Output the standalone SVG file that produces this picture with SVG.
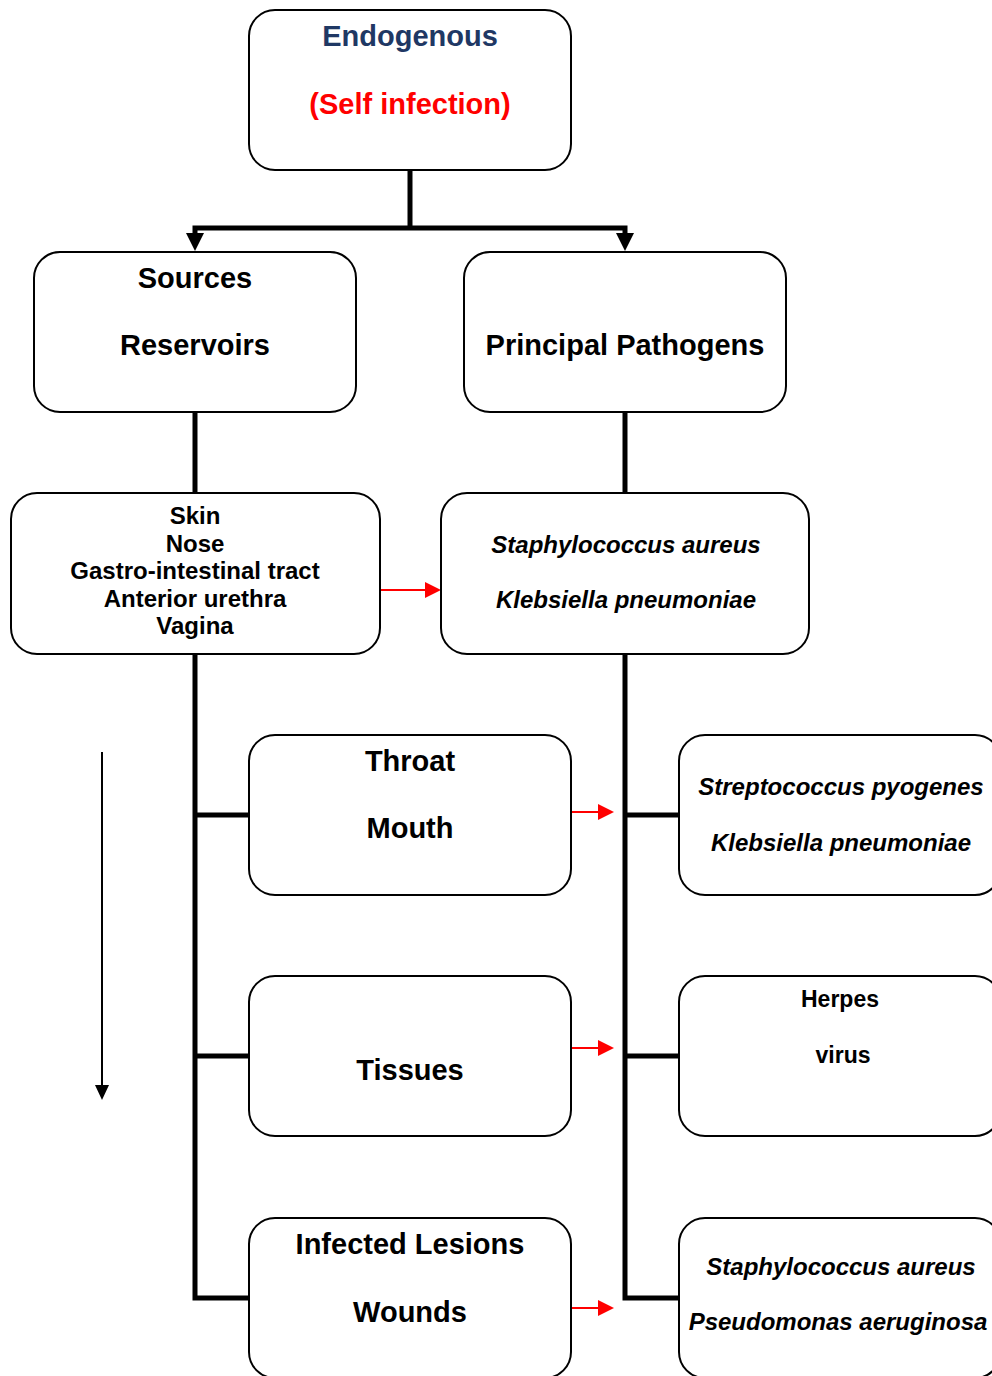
<svg xmlns="http://www.w3.org/2000/svg" width="992" height="1376" viewBox="0 0 992 1376">
<defs>
<style>
.box{fill:#fff;stroke:#000;stroke-width:2}
.t{font-family:"Liberation Sans",Arial,sans-serif;font-weight:bold;text-anchor:middle;fill:#000}
.h{font-size:29px}
.s{font-size:24px}
.v{font-size:23px}
.i{font-style:italic}
.thick{stroke:#000;stroke-width:5;fill:none}
.red{stroke:#f00;stroke-width:2;fill:none}
</style>
</defs>
<rect width="992" height="1376" fill="#fff"/>
<g id="connectors">
<path class="thick" d="M410,170 V228"/>
<path class="thick" d="M195,240 V228 H625 V240"/>
<path d="M186,233 L204,233 L195,251 Z" fill="#000"/>
<path d="M616,233 L634,233 L625,251 Z" fill="#000"/>
<path class="thick" d="M195,412 V493"/>
<path class="thick" d="M625,412 V493"/>
<path class="thick" d="M195,654 V1298 H249"/>
<path class="thick" d="M195,815 H249"/>
<path class="thick" d="M195,1056 H249"/>
<path class="thick" d="M625,654 V1298 H679"/>
<path class="thick" d="M625,815 H679"/>
<path class="thick" d="M625,1056 H679"/>
<path class="red" d="M380,590 H427"/>
<path d="M425,582 L441,590 L425,598 Z" fill="#f00"/>
<path class="red" d="M571,812 H600"/>
<path d="M598,804 L614,812 L598,820 Z" fill="#f00"/>
<path class="red" d="M571,1048 H600"/>
<path d="M598,1040 L614,1048 L598,1056 Z" fill="#f00"/>
<path class="red" d="M571,1308 H600"/>
<path d="M598,1300 L614,1308 L598,1316 Z" fill="#f00"/>
<path d="M102,752 V1088" stroke="#000" stroke-width="2"/>
<path d="M95,1085 L109,1085 L102,1100 Z" fill="#000"/>
</g>
<g id="endogenous">
<rect class="box" x="249" y="10" width="322" height="160" rx="26"/>
<text class="t h" x="410" y="46" style="fill:#1f3864">Endogenous</text>
<text class="t h" x="410" y="114" style="fill:#f00">(Self infection)</text>
</g>
<g id="sources">
<rect class="box" x="34" y="252" width="322" height="160" rx="26"/>
<text class="t h" x="195" y="288">Sources</text>
<text class="t h" x="195" y="355">Reservoirs</text>
</g>
<g id="pathogens">
<rect class="box" x="464" y="252" width="322" height="160" rx="26"/>
<text class="t h" x="625" y="355">Principal Pathogens</text>
</g>
<g id="reservoir-list">
<rect class="box" x="11" y="493" width="369" height="161" rx="26"/>
<text class="t s" x="195" y="524">Skin</text>
<text class="t s" x="195" y="552">Nose</text>
<text class="t s" x="195" y="579">Gastro-intestinal tract</text>
<text class="t s" x="195" y="607">Anterior urethra</text>
<text class="t s" x="195" y="634">Vagina</text>
</g>
<g id="staph-kleb">
<rect class="box" x="441" y="493" width="368" height="161" rx="26"/>
<text class="t s i" x="626" y="553">Staphylococcus aureus</text>
<text class="t s i" x="626" y="608">Klebsiella pneumoniae</text>
</g>
<g id="throat">
<rect class="box" x="249" y="735" width="322" height="160" rx="26"/>
<text class="t h" x="410" y="771">Throat</text>
<text class="t h" x="410" y="838">Mouth</text>
</g>
<g id="strep-kleb">
<rect class="box" x="679" y="735" width="322" height="160" rx="26"/>
<text class="t s i" x="841" y="795">Streptococcus pyogenes</text>
<text class="t s i" x="841" y="851">Klebsiella pneumoniae</text>
</g>
<g id="tissues">
<rect class="box" x="249" y="976" width="322" height="160" rx="26"/>
<text class="t h" x="410" y="1080">Tissues</text>
</g>
<g id="herpes">
<rect class="box" x="679" y="976" width="322" height="160" rx="26"/>
<text class="t v" x="840" y="1007">Herpes</text>
<text class="t v" x="843" y="1063">virus</text>
</g>
<g id="lesions">
<rect class="box" x="249" y="1218" width="322" height="160" rx="26"/>
<text class="t h" x="410" y="1254">Infected Lesions</text>
<text class="t h" x="410" y="1322">Wounds</text>
</g>
<g id="staph-pseudo">
<rect class="box" x="679" y="1218" width="322" height="160" rx="26"/>
<text class="t s i" x="841" y="1275">Staphylococcus aureus</text>
<text class="t s i" x="838" y="1330">Pseudomonas aeruginosa</text>
</g>
</svg>
